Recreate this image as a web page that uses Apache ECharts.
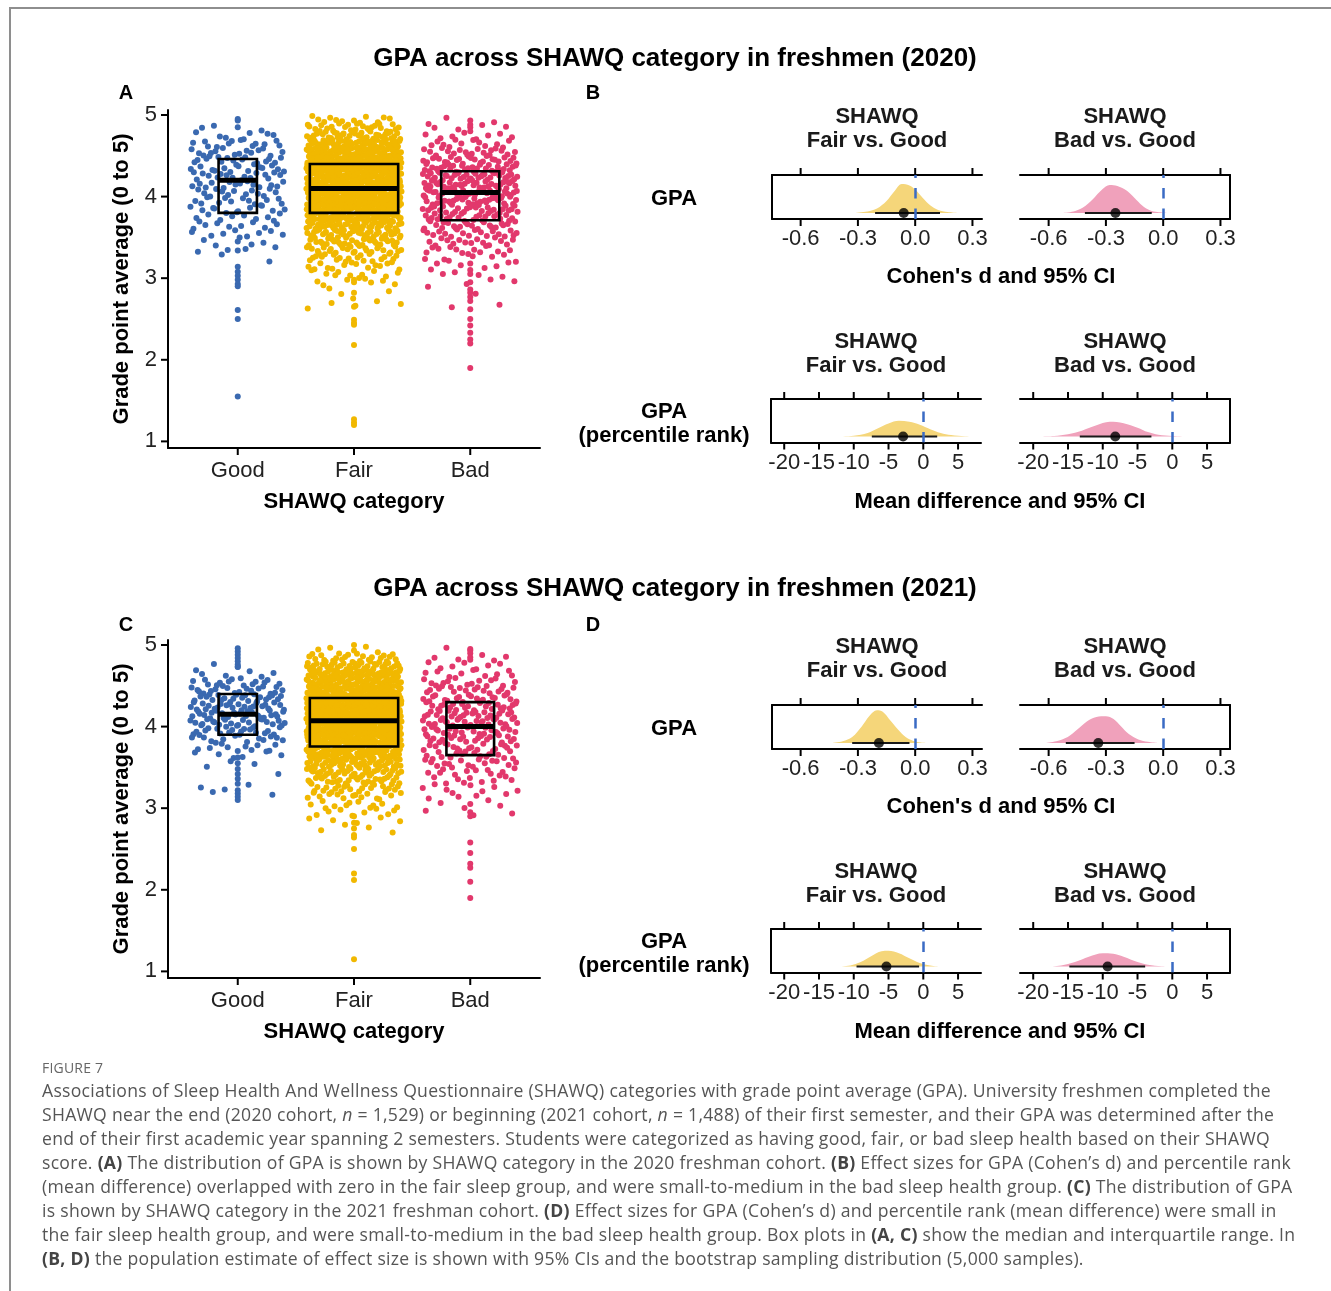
<!DOCTYPE html>
<html>
<head>
<meta charset="utf-8">
<script src="https://cdn.jsdelivr.net/npm/echarts@6/dist/echarts.min.js"></script>
<style>
html,body{margin:0;padding:0;background:#fff;width:1331px;height:1291px;overflow:hidden;}
#chart{position:absolute;left:0;top:0;width:1331px;height:1291px;}
#frameTop{position:absolute;left:9px;top:7px;width:1322px;height:0;border-top:2px solid #8e8e8e;}
#frameLeft{position:absolute;left:9px;top:7px;width:0;height:1290px;border-left:2px solid #8e8e8e;}
#caption{position:absolute;left:42px;top:1057px;font-family:"Open Sans",sans-serif;color:#555;white-space:nowrap;}
#caption .fig{font-size:14px;line-height:21px;color:#666;letter-spacing:0.2px;}
#caption .ln{font-size:17.6px;line-height:24px;letter-spacing:0.28px;}
#caption b{color:#444;}
</style>
</head>
<body>
<div id="chart"></div>
<div id="frameTop"></div>
<div id="frameLeft"></div>
<div id="caption">
<div class="fig">FIGURE 7</div>
<div class="ln">Associations of Sleep Health And Wellness Questionnaire (SHAWQ) categories with grade point average (GPA). University freshmen completed the</div>
<div class="ln">SHAWQ near the end (2020 cohort, <i>n</i> = 1,529) or beginning (2021 cohort, <i>n</i> = 1,488) of their first semester, and their GPA was determined after the</div>
<div class="ln">end of their first academic year spanning 2 semesters. Students were categorized as having good, fair, or bad sleep health based on their SHAWQ</div>
<div class="ln">score. <b>(A)</b> The distribution of GPA is shown by SHAWQ category in the 2020 freshman cohort. <b>(B)</b> Effect sizes for GPA (Cohen’s d) and percentile rank</div>
<div class="ln">(mean difference) overlapped with zero in the fair sleep group, and were small-to-medium in the bad sleep health group. <b>(C)</b> The distribution of GPA</div>
<div class="ln">is shown by SHAWQ category in the 2021 freshman cohort. <b>(D)</b> Effect sizes for GPA (Cohen’s d) and percentile rank (mean difference) were small in</div>
<div class="ln">the fair sleep health group, and were small-to-medium in the bad sleep health group. Box plots in <b>(A, C)</b> show the median and interquartile range. In</div>
<div class="ln"><b>(B, D)</b> the population estimate of effect size is shown with 95% CIs and the bootstrap sampling distribution (5,000 samples).</div>
</div>
<script>
// ---------------- DATA ----------------
const categories = ['Good', 'Fair', 'Bad'];
const gpaTicks = [1, 2, 3, 4, 5];
// GPA bands (0.1 wide), band centres
const bandCenters = [4.95, 4.85, 4.75, 4.65, 4.55, 4.45, 4.35, 4.25, 4.15, 4.05, 3.95, 3.85,
                     3.75, 3.65, 3.55, 3.45, 3.35, 3.25, 3.15, 3.05, 2.95, 2.85, 2.75, 2.65];
// number of students per GPA band (jittered dots)
const good2020 = [1, 3, 7, 12, 14, 15, 15, 16, 14, 13, 12, 11, 10, 9, 8, 5, 4, 2, 0, 0, 0, 0, 0, 0];
const fair2020 = [12, 25, 38, 50, 60, 70, 78, 80, 80, 76, 70, 62, 55, 48, 40, 33, 26, 19, 14, 10, 7, 3, 2, 4];
const bad2020  = [3, 5, 8, 12, 18, 24, 30, 34, 34, 32, 30, 27, 24, 21, 18, 15, 11, 8, 6, 4, 3, 2, 0, 2];
const good2021 = [0, 0, 2, 6, 14, 18, 22, 24, 24, 22, 18, 14, 9, 6, 3, 1, 0, 3, 2, 0, 0, 0, 0, 0];
const fair2021 = [5, 22, 38, 50, 60, 68, 76, 82, 84, 82, 76, 68, 60, 52, 44, 37, 29, 22, 16, 11, 8, 5, 4, 0];
const bad2021  = [2, 5, 7, 9, 13, 17, 20, 22, 24, 24, 22, 20, 18, 16, 14, 12, 9, 7, 5, 4, 3, 0, 0, 0];
// individual GPA values drawn on the category centre line
const goodCentre2020 = [4.95, 4.85, 3.45, 3.34, 3.14, 3.08, 3.03, 2.98, 2.93, 2.90, 2.61, 2.50, 1.55];
const fairCentre2020 = [2.98, 2.95, 2.82, 2.65, 2.49, 2.45, 2.43, 2.18, 1.27, 1.23, 1.20];
const badCentre2020  = [4.88, 4.85, 4.80, 3.18, 3.10, 3.05, 2.95, 2.86, 2.82, 2.77, 2.72, 2.62, 2.50, 2.42, 2.33, 2.25, 2.20, 1.90];
const goodCentre2021 = [4.96, 4.92, 4.88, 4.84, 4.80, 4.76, 4.73, 3.70, 3.62, 3.55, 3.48, 3.42, 3.36, 3.30, 3.22, 3.18, 3.14, 3.10];
const fairCentre2021 = [5.00, 2.90, 2.82, 2.75, 2.67, 2.64, 2.50, 2.20, 2.12, 1.15];
const badCentre2021  = [4.95, 4.90, 4.85, 4.82, 3.05, 2.95, 2.90, 2.58, 2.45, 2.32, 2.27, 2.10, 1.90];
// box plots: [Q1, median, Q3]
const boxGood2020 = [3.80, 4.20, 4.46];
const boxFair2020 = [3.80, 4.10, 4.40];
const boxBad2020  = [3.71, 4.05, 4.31];
const boxGood2021 = [3.90, 4.15, 4.40];
const boxFair2021 = [3.755, 4.07, 4.35];
const boxBad2021  = [3.65, 4.00, 4.30];

// effect sizes: ticks
const cohenTicks = [-0.6, -0.3, 0.0, 0.3];
const pctTicks = [-20, -15, -10, -5, 0, 5];
// estimate, CI low, CI high
const cohenFair2020 = [-0.06, -0.21, 0.13];
const cohenBad2020  = [-0.25, -0.41, -0.06];
const pctFair2020   = [-2.9, -7.4, 2.0];
const pctBad2020    = [-8.2, -13.3, -3.0];
const cohenFair2021 = [-0.19, -0.33, -0.03];
const cohenBad2021  = [-0.34, -0.51, -0.15];
const pctFair2021   = [-5.3, -9.6, -0.6];
const pctBad2021    = [-9.3, -14.8, -3.9];
// bootstrap sampling distributions: [effect, relative density]
const cohenFair2020Dist = [[-0.32,0],[-0.25,0.05],[-0.2,0.15],[-0.15,0.4],[-0.11,0.72],[-0.07,0.97],[-0.03,0.92],[0.0,0.78],[0.04,0.5],[0.08,0.25],[0.12,0.1],[0.17,0.03],[0.22,0]];
const cohenBad2020Dist  = [[-0.53,0],[-0.47,0.05],[-0.42,0.18],[-0.37,0.45],[-0.32,0.78],[-0.28,0.93],[-0.24,0.9],[-0.19,0.74],[-0.15,0.5],[-0.11,0.25],[-0.07,0.09],[-0.03,0.03],[0.02,0]];
const pctFair2020Dist   = [[-12.5,0],[-10,0.03],[-8,0.12],[-6.5,0.28],[-5,0.44],[-3.5,0.53],[-2,0.5],[-0.5,0.4],[1,0.25],[2.5,0.12],[4,0.05],[6,0.01],[8,0]];
const pctBad2020Dist    = [[-20.5,0],[-17,0.02],[-15,0.08],[-13,0.2],[-11,0.37],[-9,0.5],[-7,0.45],[-5,0.3],[-3.5,0.15],[-2,0.06],[0,0.02],[2.3,0]];
const cohenFair2021Dist = [[-0.44,0],[-0.38,0.06],[-0.33,0.2],[-0.28,0.55],[-0.24,0.9],[-0.2,1.09],[-0.17,1.04],[-0.13,0.75],[-0.09,0.45],[-0.05,0.2],[-0.01,0.07],[0.03,0.02],[0.07,0]];
const cohenBad2021Dist  = [[-0.62,0],[-0.56,0.06],[-0.5,0.2],[-0.45,0.45],[-0.4,0.72],[-0.35,0.87],[-0.3,0.89],[-0.26,0.8],[-0.22,0.55],[-0.18,0.3],[-0.13,0.12],[-0.08,0.04],[-0.03,0]];
const pctFair2021Dist   = [[-12.5,0],[-10.5,0.04],[-9,0.15],[-7.5,0.35],[-6,0.52],[-5,0.53],[-3.5,0.45],[-2,0.28],[-0.5,0.12],[1,0.04],[2.5,0]];
const pctBad2021Dist    = [[-18,0],[-16,0.04],[-14,0.15],[-12,0.33],[-10,0.45],[-8.5,0.43],[-7,0.33],[-5,0.15],[-3.5,0.06],[-1.5,0.01],[0,0]];

// ---------------- STYLE / LAYOUT ----------------
const FONT = '"Liberation Sans", Arial, Helvetica, sans-serif';
const COLORS = ['#3A69B0', '#F1B800', '#E2386C'];
const DENS_COLORS = { Fair: '#F5D67A', Bad: '#F0A1BB' };
const TXT = '#1a1a1a';
const YEAR_OFFSET = [0, 530];
const TEXT_DY = 2;
const JITTER_HALF = 0.41;
const TICK_LEN = 7;
const BOX_WIDTHS = [[0.33, 0.76, 0.50], [0.33, 0.76, 0.41]];

function halton(i, b) { let f = 1, r = 0; while (i > 0) { f /= b; r += f * (i % b); i = Math.floor(i / b); } return r; }
function dotCloud(counts, centre, catPos) {
  const pts = []; let idx = 1;
  counts.forEach((c, k) => {
    for (let j = 0; j < c; j++) {
      pts.push([catPos + (halton(idx, 2) - 0.5) * 2 * JITTER_HALF, bandCenters[k] + (halton(idx, 3) - 0.5) * 0.1]);
      idx++;
    }
  });
  centre.forEach(v => pts.push([catPos, v]));
  return pts;
}

const years = [
  { counts: [good2020, fair2020, bad2020], centre: [goodCentre2020, fairCentre2020, badCentre2020], boxes: [boxGood2020, boxFair2020, boxBad2020],
    eff: { cohen: [[cohenFair2020Dist, cohenFair2020], [cohenBad2020Dist, cohenBad2020]], pct: [[pctFair2020Dist, pctFair2020], [pctBad2020Dist, pctBad2020]] },
    title: 'GPA across SHAWQ category in freshmen (2020)', labels: ['A', 'B'] },
  { counts: [good2021, fair2021, bad2021], centre: [goodCentre2021, fairCentre2021, badCentre2021], boxes: [boxGood2021, boxFair2021, boxBad2021],
    eff: { cohen: [[cohenFair2021Dist, cohenFair2021], [cohenBad2021Dist, cohenBad2021]], pct: [[pctFair2021Dist, pctFair2021], [pctBad2021Dist, pctBad2021]] },
    title: 'GPA across SHAWQ category in freshmen (2021)', labels: ['C', 'D'] }
];

const grid = [], xAxis = [], yAxis = [], series = [], graphic = [];
function txt(x, y, text, font, fill) {
  graphic.push({ type: 'text', x: x, y: y + TEXT_DY, silent: true, style: { text: text, font: font, fill: fill || TXT, align: 'center', verticalAlign: 'middle', textAlign: 'center', textVerticalAlign: 'middle' } });
}
// tick marks drawn through the axis scales
// dir: 'down' (below y=edge), 'up' (above y=edge), 'left' (left of x=edge)
function tickSeries(xi, yi, values, dir, edge) {
  return { type: 'custom', xAxisIndex: xi, yAxisIndex: yi, silent: true, z: 6, clip: false,
    data: values.map(v => [v]),
    renderItem: (params, api) => {
      const v = api.value(0);
      let p, q;
      if (dir === 'left') { p = api.coord([edge, v]); q = [p[0] - TICK_LEN, p[1]]; }
      else { p = api.coord([v, edge]); q = [p[0], p[1] + (dir === 'down' ? TICK_LEN : -TICK_LEN)]; }
      return { type: 'line', shape: { x1: p[0], y1: p[1], x2: q[0], y2: q[1] }, style: { stroke: '#000', lineWidth: 2 } };
    } };
}
const axisLineStyle = { show: true, onZero: false, lineStyle: { color: '#000', width: 2 } };
const noTick = { show: false };
const labelStyle = { fontSize: 22, color: '#222', fontFamily: FONT };

years.forEach((Y, yi) => {
  const off = YEAR_OFFSET[yi];
  txt(675, 57 + off, Y.title, 'bold 26px ' + FONT, '#000');
  txt(126, 91 + off + (yi ? 2 : 0), Y.labels[0], 'bold 20px ' + FONT, '#000');
  txt(593, 91 + off + (yi ? 2 : 0), Y.labels[1], 'bold 20px ' + FONT, '#000');

  // ---- dot + box panel ----
  const gi = grid.length;
  grid.push({ left: 168, top: 110 + off, width: 372, height: 338 });
  const xi = xAxis.length, yIdx = yAxis.length;
  const X_MIN = 0.4, X_MAX = 3.6, Y_MIN = 0.919, Y_MAX = 5.061;
  xAxis.push({ type: 'value', gridIndex: gi, min: X_MIN, max: X_MAX, splitLine: { show: false },
    axisLine: axisLineStyle, axisTick: noTick,
    axisLabel: Object.assign({ customValues: [1, 2, 3], margin: 12, formatter: v => categories[Math.round(v) - 1] }, labelStyle),
    name: 'SHAWQ category', nameLocation: 'middle', nameGap: 43,
    nameTextStyle: { fontSize: 22, fontWeight: 'bold', color: '#000', fontFamily: FONT } });
  yAxis.push({ type: 'value', gridIndex: gi, min: Y_MIN, max: Y_MAX, splitLine: { show: false },
    axisLine: axisLineStyle, axisTick: noTick,
    axisLabel: Object.assign({ customValues: gpaTicks, margin: 11 }, labelStyle),
    name: 'Grade point average (0 to 5)', nameLocation: 'middle', nameGap: 35, nameRotate: 90,
    nameTextStyle: { fontSize: 22, fontWeight: 'bold', color: '#000', fontFamily: FONT } });
  categories.forEach((c, ci) => {
    series.push({ type: 'scatter', name: c + yi, xAxisIndex: xi, yAxisIndex: yIdx, symbolSize: 6, silent: true,
      itemStyle: { color: COLORS[ci], opacity: 1 }, data: dotCloud(Y.counts[ci], Y.centre[ci], ci + 1), z: 2 });
  });
  series.push({ type: 'custom', xAxisIndex: xi, yAxisIndex: yIdx, z: 5, silent: true,
    data: Y.boxes.map((b, i) => [i + 1, b[0], b[1], b[2], BOX_WIDTHS[yi][i]]),
    encode: { x: 0, y: [1, 2, 3] },
    renderItem: (params, api) => {
      const x = api.value(0), w = api.value(4);
      const tl = api.coord([x - w / 2, api.value(3)]);
      const br = api.coord([x + w / 2, api.value(1)]);
      const m1 = api.coord([x - w / 2, api.value(2)]);
      const m2 = api.coord([x + w / 2, api.value(2)]);
      return { type: 'group', children: [
        { type: 'rect', shape: { x: tl[0], y: tl[1], width: br[0] - tl[0], height: br[1] - tl[1] }, style: { fill: 'none', stroke: '#000', lineWidth: 2.6 } },
        { type: 'line', shape: { x1: m1[0], y1: m1[1], x2: m2[0], y2: m2[1] }, style: { stroke: '#000', lineWidth: 5 } }
      ] };
    } });
  series.push(tickSeries(xi, yIdx, [1, 2, 3], 'down', Y_MIN));
  series.push(tickSeries(xi, yIdx, gpaTicks, 'left', X_MIN));

  // ---- effect size panels ----
  const rows = [
    { key: 'cohen', top: 175, h: 44, lefts: [772, 1020], min: -0.75, max: 0.35, ticks: cohenTicks, fmt: v => v.toFixed(1),
      row: ['GPA'], rowY: [197], stripY: [115, 139], axisTitle: "Cohen's d and 95% CI", axisTitleY: 275, axisTitleX: 1001 },
    { key: 'pct', top: 399, h: 43.5, lefts: [771, 1020], min: -21.9, max: 8.3, ticks: pctTicks, fmt: v => String(Math.round(v)),
      row: ['GPA', '(percentile rank)'], rowY: [410, 434], stripY: [340, 364], axisTitle: 'Mean difference and 95% CI', axisTitleY: 500, axisTitleX: 1000 }
  ];
  const D_MIN = -0.2, D_MAX = 1.267;
  rows.forEach(R => {
    R.row.forEach((t, k) => txt(R.row.length === 1 ? 674 : 664, R.rowY[k] + off, t, 'bold 22px ' + FONT, '#000'));
    txt(R.axisTitleX, R.axisTitleY + off, R.axisTitle, 'bold 22px ' + FONT, '#000');
    ['Fair', 'Bad'].forEach((grp, side) => {
      const left = R.lefts[side];
      const cx = left + 105;
      txt(cx, R.stripY[0] + off, 'SHAWQ', 'bold 22px ' + FONT);
      txt(cx, R.stripY[1] + off, grp + ' vs. Good', 'bold 22px ' + FONT);
      const g = grid.length;
      grid.push({ left: left, top: R.top + off, width: 210, height: R.h });
      const xb = xAxis.length;
      xAxis.push({ type: 'value', gridIndex: g, min: R.min, max: R.max, position: 'bottom', splitLine: { show: false },
        axisLine: axisLineStyle, axisTick: noTick,
        axisLabel: Object.assign({ customValues: R.ticks, margin: 9, formatter: R.fmt }, labelStyle) });
      xAxis.push({ type: 'value', gridIndex: g, min: R.min, max: R.max, position: 'top', splitLine: { show: false },
        axisLine: axisLineStyle, axisTick: noTick, axisLabel: { show: false } });
      const yb = yAxis.length;
      yAxis.push({ type: 'value', gridIndex: g, min: D_MIN, max: D_MAX, position: side === 0 ? 'left' : 'right',
        splitLine: { show: false }, axisLine: axisLineStyle, axisTick: noTick, axisLabel: { show: false } });
      const pair = Y.eff[R.key][side];
      const dist = pair[0], est = pair[1];
      series.push({ type: 'line', xAxisIndex: xb, yAxisIndex: yb, data: dist, smooth: 0.35, symbol: 'none', silent: true, z: 2,
        lineStyle: { width: 0 }, areaStyle: { color: DENS_COLORS[grp], opacity: 1 },
        markLine: { silent: true, symbol: ['none', 'none'], label: { show: false }, animation: false,
          lineStyle: { color: '#3A6BC4', width: 2.5, type: [10.5, 10] }, data: [{ xAxis: 0 }] } });
      series.push({ type: 'line', xAxisIndex: xb, yAxisIndex: yb, data: [[est[1], 0], [est[2], 0]], symbol: 'none', silent: true, z: 3,
        lineStyle: { color: '#1a1a1a', width: 2 } });
      series.push({ type: 'scatter', xAxisIndex: xb, yAxisIndex: yb, data: [[est[0], 0]], symbolSize: 10, silent: true, z: 4,
        itemStyle: { color: '#000' } });
      series.push(tickSeries(xb, yb, R.ticks, 'down', D_MIN));
      series.push(tickSeries(xb, yb, R.ticks, 'up', D_MAX));
    });
  });
});

const chart = echarts.init(document.getElementById('chart'), null, { renderer: 'canvas' });
chart.setOption({
  animation: false,
  backgroundColor: '#fff',
  textStyle: { fontFamily: FONT },
  grid: grid, xAxis: xAxis, yAxis: yAxis, series: series, graphic: graphic
});
</script>
</body>
</html>
